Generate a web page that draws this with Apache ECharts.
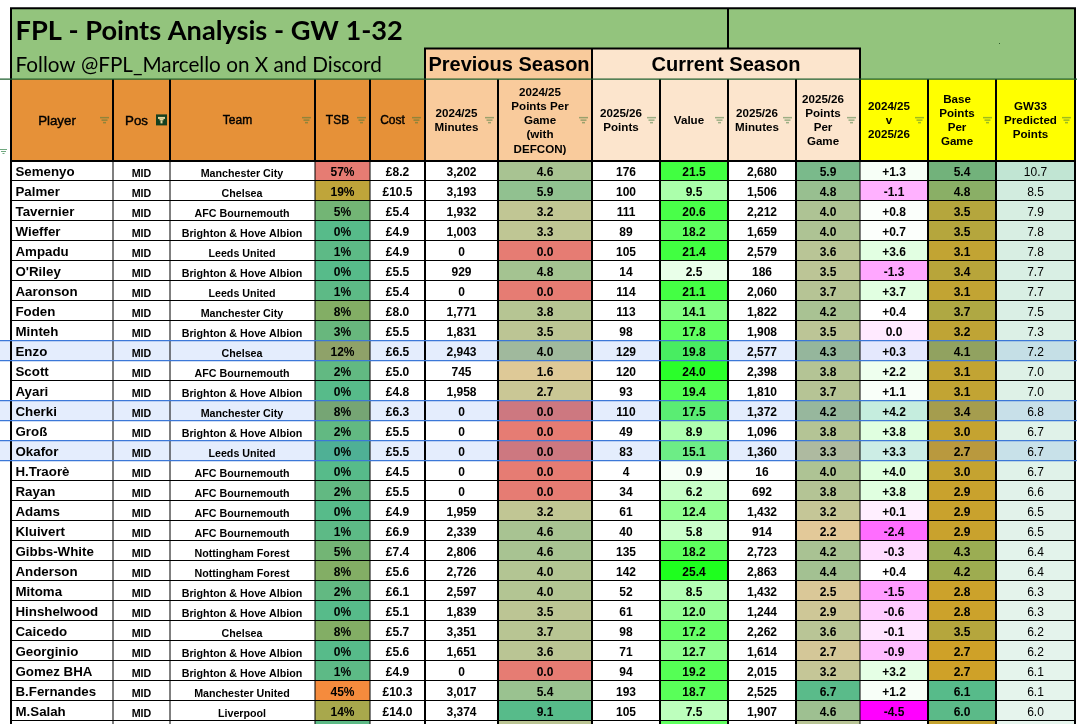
<!DOCTYPE html>
<html>
<head>
<meta charset="utf-8">
<title>FPL - Points Analysis - GW 1-32</title>
<style>html,body{margin:0;padding:0;background:#fff}#chart{width:1077px;height:724px}</style>
<script src="https://cdn.jsdelivr.net/npm/echarts@6/dist/echarts.min.js"></script>
</head>
<body>
<div id="chart"></div>
<script>
const BHA = 'Brighton & Hove Albion', AFCB = 'AFC Bournemouth', MC = 'Manchester City', LU = 'Leeds United', NF = 'Nottingham Forest', CFC = 'Chelsea';

const titleText = 'FPL - Points Analysis - GW 1-32';
const subtitleText = 'Follow @FPL_Marcello on X and Discord';
const previousSeasonLabel = 'Previous Season';
const currentSeasonLabel = 'Current Season';

const headers = ['Player', 'Pos', 'Team', 'TSB', 'Cost', '2024/25\nMinutes', '2024/25\nPoints Per\nGame\n(with\nDEFCON)', '2025/26\nPoints', 'Value', '2025/26\nMinutes', '2025/26\nPoints\nPer\nGame', '2024/25\nv\n2025/26', 'Base\nPoints\nPer\nGame', 'GW33\nPredicted\nPoints'];

const players = ['Semenyo', 'Palmer', 'Tavernier', 'Wieffer', 'Ampadu', "O'Riley", 'Aaronson', 'Foden', 'Minteh', 'Enzo', 'Scott', 'Ayari', 'Cherki', 'Groß', 'Okafor', 'H.Traorè', 'Rayan', 'Adams', 'Kluivert', 'Gibbs-White', 'Anderson', 'Mitoma', 'Hinshelwood', 'Caicedo', 'Georginio', 'Gomez BHA', 'B.Fernandes', 'M.Salah'];
const positions = players.map(() => 'MID');
const teams = [MC, CFC, AFCB, BHA, LU, BHA, LU, MC, BHA, CFC, AFCB, BHA, MC, BHA, LU, AFCB, AFCB, AFCB, AFCB, NF, NF, BHA, BHA, CFC, BHA, BHA, 'Manchester United', 'Liverpool'];
const tsb = [57, 19, 5, 0, 1, 0, 1, 8, 3, 12, 2, 0, 8, 2, 0, 0, 2, 0, 1, 5, 8, 2, 0, 8, 0, 1, 45, 14];
const cost = [8.2, 10.5, 5.4, 4.9, 4.9, 5.5, 5.4, 8.0, 5.5, 6.5, 5.0, 4.8, 6.3, 5.5, 5.5, 4.5, 5.5, 4.9, 6.9, 7.4, 5.6, 6.1, 5.1, 5.7, 5.6, 4.9, 10.3, 14.0];
const minutes2425 = [3202, 3193, 1932, 1003, 0, 929, 0, 1771, 1831, 2943, 745, 1958, 0, 0, 0, 0, 0, 1959, 2339, 2806, 2726, 2597, 1839, 3351, 1651, 0, 3017, 3374];
const ppg2425 = [4.6, 5.9, 3.2, 3.3, 0.0, 4.8, 0.0, 3.8, 3.5, 4.0, 1.6, 2.7, 0.0, 0.0, 0.0, 0.0, 0.0, 3.2, 4.6, 4.6, 4.0, 4.0, 3.5, 3.7, 3.6, 0.0, 5.4, 9.1];
const points2526 = [176, 100, 111, 89, 105, 14, 114, 113, 98, 129, 120, 93, 110, 49, 83, 4, 34, 61, 40, 135, 142, 52, 61, 98, 71, 94, 193, 105];
const value2526 = [21.5, 9.5, 20.6, 18.2, 21.4, 2.5, 21.1, 14.1, 17.8, 19.8, 24.0, 19.4, 17.5, 8.9, 15.1, 0.9, 6.2, 12.4, 5.8, 18.2, 25.4, 8.5, 12.0, 17.2, 12.7, 19.2, 18.7, 7.5];
const minutes2526 = [2680, 1506, 2212, 1659, 2579, 186, 2060, 1822, 1908, 2577, 2398, 1810, 1372, 1096, 1360, 16, 692, 1432, 914, 2723, 2863, 1432, 1244, 2262, 1614, 2015, 2525, 1907];
const ppg2526 = [5.9, 4.8, 4.0, 4.0, 3.6, 3.5, 3.7, 4.2, 3.5, 4.3, 3.8, 3.7, 4.2, 3.8, 3.3, 4.0, 3.8, 3.2, 2.2, 4.2, 4.4, 2.5, 2.9, 3.6, 2.7, 3.2, 6.7, 4.6];
const seasonDiff = [1.3, -1.1, 0.8, 0.7, 3.6, -1.3, 3.7, 0.4, 0.0, 0.3, 2.2, 1.1, 4.2, 3.8, 3.3, 4.0, 3.8, 0.1, -2.4, -0.3, 0.4, -1.5, -0.6, -0.1, -0.9, 3.2, 1.2, -4.5];
const basePpg = [5.4, 4.8, 3.5, 3.5, 3.1, 3.4, 3.1, 3.7, 3.2, 4.1, 3.1, 3.1, 3.4, 3.0, 2.7, 3.0, 2.9, 2.9, 2.9, 4.3, 4.2, 2.8, 2.8, 3.5, 2.7, 2.7, 6.1, 6.0];
const predicted = [10.7, 8.5, 7.9, 7.8, 7.8, 7.7, 7.7, 7.5, 7.3, 7.2, 7.0, 7.0, 6.8, 6.7, 6.7, 6.7, 6.6, 6.5, 6.5, 6.4, 6.4, 6.3, 6.3, 6.2, 6.2, 6.1, 6.1, 6.0];
const selectedPlayers = ['Enzo', 'Cherki', 'Okafor'];

// values of the row cut off by the bottom of the screenshot: only its colours show
const cutOffRow = { 3: 1, 6: 3.5, 8: 18.0, 10: 3.6, 11: 0.4, 12: 3.0, 13: 6.0 };

const tableColumns = [players, positions, teams, tsb, cost, minutes2425, ppg2425, points2526, value2526, minutes2526, ppg2526, seasonDiff, basePpg, predicted];

// ---- layout and style, separate from the data ----
const columnEdges = [11, 113, 170, 315, 370, 425, 498, 592, 660, 728, 796, 860, 928, 996, 1075];
const bodyLineWidths = [2, 1, 1, 1, 1, 2, 2, 2, 2, 2, 2, 1, 2, 2, 2];
const headerFills = ['#E69138', '#E69138', '#E69138', '#E69138', '#E69138', '#F9CB9C', '#F9CB9C', '#FCE5CD', '#FCE5CD', '#FCE5CD', '#FCE5CD', '#FFFF00', '#FFFF00', '#FFFF00'];
const headerFonts = { 0: '13.3px "Liberation Sans"', 1: '13.3px "Liberation Sans"', 2: '12px "Liberation Sans"', 3: '12px "Liberation Sans"', 4: '12px "Liberation Sans"' };
const bandTop = -7.6, bandMid = -5.6, headerTop = -4.075;
const ROWS_SHOWN = 29;

const colourScales = {
  3: [[0, '#57BB8A'], [5, '#73B575'], [8, '#83AE65'], [12, '#A0AB58'], [14, '#A8A84C'], [19, '#BFA53A'], [45, '#F58B3D'], [57, '#E67C73']],
  6: [[0, '#E67C73'], [0.8, '#E67C73'], [1.6, '#DEC997'], [9.1, '#57BB8A']],
  8: [[0, '#FFFFFF'], [25.4, '#1EFF1E']],
  10: [[2.2, '#E3C999'], [3.5, '#BCC596'], [4.8, '#98BF90'], [5.9, '#7ABA8B'], [6.7, '#5ABB8A']],
  11: [[-4.5, '#FF00FF'], [0.4, '#FFFFFF'], [4.2, '#DCFFDC']],
  12: [[2.7, '#CFA128'], [3.5, '#B5A63D'], [4.3, '#9BAD53'], [4.8, '#8AAF66'], [5.4, '#72B27B'], [6.1, '#57BB8A']],
  13: [[6.0, '#E6F4ED'], [10.7, '#C1E5D3']]
};

function rgb(hex) { return [1, 3, 5].map(i => parseInt(hex.substr(i, 2), 16)); }
function scaleColour(col, v) {
  const s = colourScales[col];
  if (!s) return '#FFFFFF';
  if (v <= s[0][0]) return s[0][1];
  for (let i = 1; i < s.length; i++) {
    if (v <= s[i][0]) {
      const t = (v - s[i - 1][0]) / (s[i][0] - s[i - 1][0]);
      const a = rgb(s[i - 1][1]), b = rgb(s[i][1]);
      return 'rgb(' + a.map((x, k) => Math.round(x + (b[k] - x) * t)).join(',') + ')';
    }
  }
  return s[s.length - 1][1];
}
function formatCell(col, v) {
  if (col <= 2) return v;
  if (col === 3) return v + '%';
  if (col === 4) return '£' + v.toFixed(1);
  if (col === 5 || col === 9) return v.toLocaleString('en-US');
  if (col === 7) return String(v);
  if (col === 11) return (v > 0 ? '+' : '') + v.toFixed(1);
  return v.toFixed(1);
}
const cellFont = {
  0: 'bold 13.3px "Liberation Sans"', 1: 'bold 10.7px "Liberation Sans"', 2: 'bold 10.7px "Liberation Sans"',
  13: '12px "Liberation Sans"'
};
const cellTextDy = { 0: 1.5, 1: 3.5, 2: 3.5 };
const SANS_BOLD = 'bold 12px "Liberation Sans"';

const px = (api, v) => api.coord([v, 0])[0];
const py = (api, v) => api.coord([0, v])[1];
function rectEl(x0, y0, x1, y1, fill) {
  return { type: 'rect', shape: { x: x0, y: y0, width: x1 - x0, height: y1 - y0 }, style: { fill: fill } };
}

// ---- fills -----
const fillData = [];
tableColumns.forEach((c, col) => {
  fillData.push([col, -1, 0]);
  for (let r = 0; r < players.length; r++) fillData.push([col, r, 1]);
  fillData.push([col, players.length, 2]);
});
function renderFill(params, api) {
  const col = api.value(0), row = api.value(1), kind = api.value(2);
  const x0 = px(api, columnEdges[col]), x1 = px(api, columnEdges[col + 1]);
  if (kind === 0) return rectEl(x0, py(api, headerTop), x1, py(api, 0), headerFills[col]);
  const v = kind === 1 ? tableColumns[col][row] : cutOffRow[col];
  const fill = v === undefined ? '#FFFFFF' : scaleColour(col, v);
  return rectEl(x0, py(api, row), x1, py(api, row + 1), fill);
}
function renderBand() {
  const api = arguments[1];
  const L = px(api, columnEdges[0]), R = px(api, columnEdges[14]);
  const a = px(api, columnEdges[5]), b = px(api, columnEdges[7]), c = px(api, columnEdges[11]);
  return { type: 'group', children: [
    rectEl(L, py(api, bandTop), R, py(api, headerTop), '#93C47D'),
    rectEl(a, py(api, bandMid), b, py(api, headerTop), '#F9CB9C'),
    rectEl(b, py(api, bandMid), c, py(api, headerTop), '#FCE5CD')
  ]};
}

// ---- selected rows tint and outline -----
const selectedData = selectedPlayers.map(p => [players.indexOf(p)]);
function renderTint(params, api) {
  const r = api.value(0);
  return rectEl(0, py(api, r), 1077, py(api, r + 1), 'rgba(14,101,235,0.115)');
}
function renderSelectionLines(params, api) {
  const r = api.value(0);
  const col = '#3C78D8';
  return { type: 'group', children: [
    rectEl(0, py(api, r) - 0.5, 1077, py(api, r) + 0.7, col),
    rectEl(0, py(api, r + 1) - 0.5, 1077, py(api, r + 1) + 0.7, col)
  ]};
}

// ---- sheet lines -----
function renderLines(params, api) {
  const ch = [];
  const bottom = 724, bodyTop = py(api, 0), hTop = py(api, headerTop), top = py(api, bandTop), mid = py(api, bandMid);
  for (let r = 1; r <= ROWS_SHOWN - 1; r++) {
    ch.push(rectEl(px(api, columnEdges[0]), py(api, r) - 0.5, px(api, columnEdges[14]), py(api, r) + 0.5, '#000'));
  }
  columnEdges.forEach((e, i) => {
    const x = px(api, e), w = bodyLineWidths[i];
    ch.push(rectEl(x - w / 2, bodyTop, x + w / 2, bottom, '#000'));
    ch.push(rectEl(x - 1, hTop, x + 1, bodyTop, '#000'));
  });
  ch.push(rectEl(px(api, columnEdges[0]) - 1, top - 1.2, px(api, columnEdges[14]) + 1, top + 0.8, '#000'));
  ch.push(rectEl(px(api, columnEdges[0]) - 1, top, px(api, columnEdges[0]) + 1, hTop, '#000'));
  ch.push(rectEl(px(api, columnEdges[14]) - 1, top, px(api, columnEdges[14]) + 1, hTop, '#000'));
  ch.push(rectEl(px(api, columnEdges[9]) - 1, top, px(api, columnEdges[9]) + 1, mid, '#000'));
  ch.push(rectEl(px(api, columnEdges[5]) - 1, mid - 1, px(api, columnEdges[11]) + 1, mid + 1, '#000'));
  [5, 7, 11].forEach(i => ch.push(rectEl(px(api, columnEdges[i]) - 1, mid, px(api, columnEdges[i]) + 1, hTop, '#000')));
  ch.push(rectEl(px(api, columnEdges[0]) - 1, bodyTop - 0.5, px(api, columnEdges[14]) + 1, bodyTop + 1.5, '#000'));
  ch.push(rectEl(0, hTop - 0.5, 1077, hTop + 0.7, '#1E5F2E'));
  // stray marks of the spreadsheet screenshot
  const sy = py(api, -0.45);
  ch.push(rectEl(0, sy - 2.5, 7, sy - 1.5, '#6FA87F'), rectEl(1, sy - 0.5, 6, sy + 0.5, '#6FA87F'), rectEl(2.5, sy + 1.5, 4.5, sy + 2.5, '#6FA87F'));
  ch.push(rectEl(999, 43, 1000, 44, '#2E5E2A'));
  return { type: 'group', children: ch };
}

// ---- filter marks in the header -----
function renderFilter(params, api) {
  const col = api.value(0);
  const cx = px(api, columnEdges[col + 1]) - 8.5, cy = py(api, -2.03);
  if (col === 1) {
    const x0 = px(api, columnEdges[2]) - 14, y0 = cy - 5.5;
    return { type: 'group', children: [
      rectEl(x0, y0, x0 + 11, y0 + 11, '#14401F'),
      rectEl(x0 + 2, y0 + 2.5, x0 + 9, y0 + 4.5, '#E3D49A'),
      rectEl(x0 + 3.5, y0 + 4.5, x0 + 7.5, y0 + 6, '#E3D49A'),
      rectEl(x0 + 4.5, y0 + 6, x0 + 6.5, y0 + 9, '#E3D49A')
    ]};
  }
  const f = 'rgba(60,120,60,0.5)';
  return { type: 'group', children: [
    rectEl(cx - 4.5, cy - 3, cx + 4.5, cy - 1.5, f),
    rectEl(cx - 3, cy - 0.5, cx + 3, cy + 1, f),
    rectEl(cx - 1.5, cy + 2, cx + 1.5, cy + 3.5, f)
  ]};
}

// ---- all text -----
const textData = [];
tableColumns.forEach((c, col) => {
  for (let r = 0; r < players.length; r++) textData.push([col, r, 1]);
  textData.push([col, -1, 0]);
});
function renderText(params, api) {
  const col = api.value(0), row = api.value(1), kind = api.value(2);
  const x0 = px(api, columnEdges[col]), x1 = px(api, columnEdges[col + 1]);
  if (kind === 0) {
    const heavy = col < 5 ? { stroke: '#000', lineWidth: 0.4 } : {};
    return { type: 'text', style: Object.assign({
      text: headers[col], x: (x0 + x1) / 2 - 5, y: py(api, -2.03) + 1, align: 'center', verticalAlign: 'middle',
      font: headerFonts[col] || 'bold 11.6px "Liberation Sans"', lineHeight: 14.2, fill: '#000'
    }, heavy)};
  }
  const s = formatCell(col, tableColumns[col][row]);
  const yc = py(api, row + 0.5) + (cellTextDy[col] !== undefined ? cellTextDy[col] : 2);
  return { type: 'text', style: {
    text: s, x: col === 0 ? x0 + 4.5 : (x0 + x1) / 2 + (col === 2 ? -0.5 : 0), y: yc,
    align: col === 0 ? 'left' : 'center', verticalAlign: 'middle',
    font: cellFont[col] || SANS_BOLD, fill: '#000'
  }};
}
const bannerData = [[0], [1], [2], [3]];
function renderBanner(params, api) {
  const i = api.value(0);
  const styles = [
    { text: titleText, x: 15.5, y: py(api, -6.47), align: 'left', font: 'bold 27.2px Lato' },
    { text: subtitleText, x: 15.5, y: py(api, -4.75), align: 'left', font: '20.7px Lato' },
    { text: previousSeasonLabel, x: (px(api, columnEdges[5]) + px(api, columnEdges[7])) / 2 + 0.5, y: py(api, -4.75), align: 'center', font: 'bold 20px "Liberation Sans"' },
    { text: currentSeasonLabel, x: (px(api, columnEdges[7]) + px(api, columnEdges[11])) / 2, y: py(api, -4.75), align: 'center', font: 'bold 20px "Liberation Sans"' }
  ];
  return { type: 'text', style: Object.assign({ verticalAlign: 'middle', fill: '#000' }, styles[i]) };
}

const custom = (name, data, renderItem, z) => ({
  type: 'custom', name, data, renderItem, z, clip: false, animation: false, silent: true,
  coordinateSystem: 'cartesian2d', encode: { x: 0, y: 1 }
});

const chart = echarts.init(document.getElementById('chart'), null, { renderer: 'canvas' });
chart.setOption({
  backgroundColor: '#FFFFFF',
  animation: false,
  tooltip: { show: false },
  grid: { left: 0, right: 0, top: 0, bottom: 0 },
  xAxis: { type: 'value', min: 0, max: 1077, show: false },
  yAxis: { type: 'value', min: -8.025, max: 28.175, inverse: true, show: false },
  series: [
    custom('band', [[0, 0]], renderBand, 1),
    custom('cells', fillData, renderFill, 2),
    custom('selection tint', selectedData, renderTint, 3),
    custom('sheet lines', [[0, 0]], renderLines, 4),
    custom('selection lines', selectedData, renderSelectionLines, 5),
    custom('filters', headers.map((h, i) => [i, -1]), renderFilter, 6),
    custom('cell text', textData, renderText, 7),
    custom('banner text', bannerData, renderBanner, 7)
  ]
});
</script>
</body>
</html>
